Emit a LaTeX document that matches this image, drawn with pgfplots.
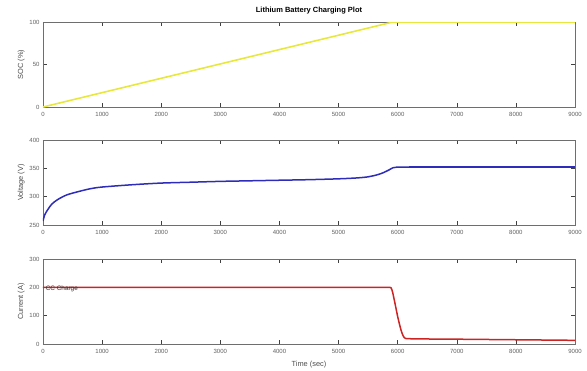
\documentclass[border=0pt]{standalone}
\usepackage{pgfplots}
\pgfplotsset{compat=1.18}
\usepackage{fontspec}
\setmainfont{Liberation Sans}
\definecolor{socyellow}{RGB}{232,232,60}
\definecolor{vblue}{RGB}{45,45,185}
\definecolor{ired}{RGB}{205,35,35}
\definecolor{tickgray}{RGB}{95,95,95}
\definecolor{boxgray}{RGB}{110,110,110}
\pgfplotsset{
  myax/.style={
    width=532pt, height=85pt, scale only axis,
    xmin=0, xmax=9000, xtick={0,1000,...,9000},
    tick align=inside, tick pos=both, major tick length=4pt,
    axis line style={boxgray, line width=0.6pt},
    every tick/.style={black!75, line width=0.5pt},
    ticklabel style={font=\fontsize{6}{7}\selectfont, text=tickgray},
    xticklabel style={yshift=-2pt},
    /pgf/number format/assume math mode=true,
    /pgf/number format/set thousands separator={},
    scaled x ticks=false,
    ylabel style={font=\fontsize{7.4}{8}\selectfont, text=black!70, at={(axis description cs:-0.041,0.5)}, anchor=center},
    xlabel style={font=\fontsize{7.4}{8}\selectfont, text=black!70},
    anchor=north west,
  }
}
\begin{document}
\begin{tikzpicture}
\useasboundingbox (0,0) rectangle (587pt,-370pt);
% SOC
\begin{axis}[myax, at={(43pt,-22pt)},
  ymin=0, ymax=100, ytick={0,50,100},
  ylabel={SOC (\%)},
  title={Lithium Battery Charging Plot},
  title style={font=\bfseries\fontsize{7.5}{8}\selectfont, inner sep=2pt},
]
\addplot[socyellow, line width=1.6pt] coordinates {(0,0) (5920,100) (9000,100)};
\end{axis}
% Voltage
\begin{axis}[myax, at={(43pt,-140pt)},
  ymin=250, ymax=400, ytick={250,300,350,400},
  ylabel={Voltage (V)},
]
\addplot[vblue, line width=1.5pt, smooth] coordinates {
(0,257) (30,268) (80,277) (150,287) (250,295) (400,303) (600,309) (800,314)
(1000,317) (1500,321) (2000,324) (2500,325.5) (3000,327) (3500,328) (4000,329)
(4500,330) (5000,331.5) (5300,333) (5500,335) (5650,338.5) (5750,342) (5850,347)
(5920,351) (5980,352) (6200,352)};
\addplot[vblue, line width=1.5pt] coordinates {(6200,352) (9000,352)};
\end{axis}
% Current
\begin{axis}[myax, at={(43pt,-259pt)},
  ymin=0, ymax=300, ytick={0,100,200,300},
  ylabel={Current (A)},
  xlabel={Time (sec)},
]
\addplot[draw=ired, line width=1.5pt, line join=round] coordinates {
(0,200) (2000,200) (4000,200) (5870,200) (5890,198) (5905,190) (5920,178) (5940,158) (5960,138)
(5980,117) (6000,97) (6020,79) (6040,62) (6060,47) (6080,35) (6095,28) (6110,23)
(6130,20) (6150,19) (6300,18) (7000,17) (8000,15) (9000,13)};
\node[anchor=west, font=\fontsize{6.4}{7}\selectfont, text=black!80, inner sep=0pt] at (axis cs:45,194) {CC Charge};
\end{axis}
\end{tikzpicture}
\end{document}
